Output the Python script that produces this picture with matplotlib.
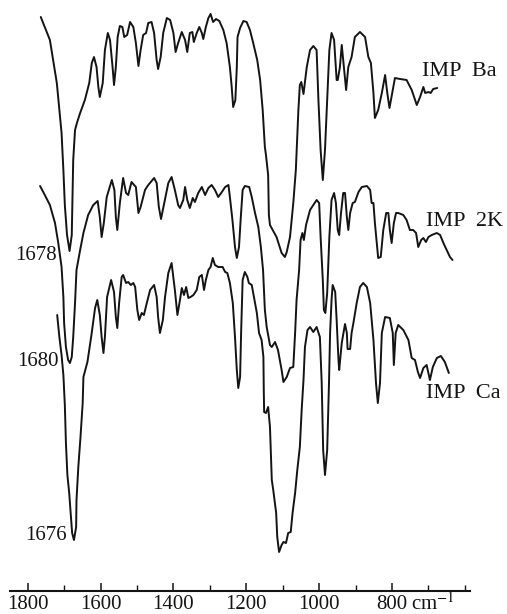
import matplotlib.pyplot as plt
from matplotlib.transforms import blended_transform_factory

plt.rcParams['font.family'] = ['Liberation Serif', 'DejaVu Serif']
plt.rcParams['mathtext.fontset'] = 'stix'

# IR spectra of IMP salts, wavenumber (cm-1) vs. transmittance (arbitrary, offset)
ba_wn = [1764, 1739, 1720, 1707, 1702, 1698, 1692, 1685, 1679, 1677,
         1675, 1670, 1664, 1656, 1643, 1631, 1624, 1618, 1611, 1606,
         1602, 1594, 1588, 1580, 1574, 1567, 1563, 1558, 1553, 1547,
         1540, 1535, 1527, 1519, 1510, 1503, 1496, 1490, 1483, 1475,
         1469, 1460, 1453, 1446, 1442, 1435, 1428, 1418, 1409, 1400,
         1394, 1387, 1377, 1368, 1362, 1355, 1348, 1344, 1336, 1329,
         1322, 1318, 1311, 1304, 1298, 1291, 1283, 1274, 1263, 1254,
         1245, 1240, 1236, 1230, 1226, 1224, 1217, 1208, 1199, 1190,
         1181, 1170, 1162, 1155, 1149, 1146, 1142, 1140, 1138, 1135,
         1117, 1103, 1094, 1089, 1080, 1071, 1064, 1057, 1053, 1049,
         1043, 1034, 1025, 1016, 1007, 1002, 996, 990, 984, 978,
         972, 966, 959, 952, 949, 943, 938, 932, 926, 920,
         911, 902, 888, 874, 865, 858, 851, 847, 838, 828,
         819, 813, 807, 798, 792, 778, 760, 746, 732, 723,
         714, 709, 700, 694, 687, 676]
ba_t = [574, 551, 508, 458, 421, 386, 356, 340, 356, 391,
        431, 461, 469, 478, 491, 508, 528, 534, 524, 504,
        494, 508, 541, 558, 551, 524, 506, 524, 554, 565,
        564, 554, 556, 569, 564, 548, 525, 541, 556, 558,
        568, 569, 558, 531, 522, 534, 558, 573, 571, 558,
        539, 548, 559, 551, 539, 558, 559, 549, 558, 564,
        558, 552, 564, 573, 577, 569, 572, 570, 561, 548,
        524, 504, 484, 491, 524, 554, 563, 570, 569, 561,
        548, 531, 511, 481, 444, 436, 423, 416, 376, 366,
        354, 338, 334, 339, 354, 388, 421, 481, 506, 509,
        497, 524, 541, 545, 541, 491, 441, 411, 441, 491,
        541, 558, 551, 511, 511, 524, 546, 524, 501, 524,
        534, 554, 559, 554, 534, 528, 498, 473, 481, 498,
        516, 498, 483, 501, 513, 512, 511, 501, 486, 494,
        504, 498, 499, 498, 502, 503]

k2_wn = [1766, 1753, 1739, 1725, 1716, 1707, 1702, 1700, 1695, 1689,
         1684, 1679, 1675, 1670, 1666, 1656, 1647, 1634, 1620, 1608,
         1602, 1597, 1591, 1583, 1569, 1562, 1558, 1554, 1547, 1538,
         1530, 1524, 1515, 1503, 1496, 1490, 1478, 1469, 1453, 1446,
         1440, 1434, 1425, 1414, 1405, 1396, 1387, 1382, 1373, 1368,
         1362, 1355, 1347, 1341, 1332, 1322, 1313, 1304, 1295, 1286,
         1277, 1267, 1258, 1249, 1245, 1238, 1231, 1226, 1220, 1215,
         1210, 1204, 1192, 1185, 1176, 1167, 1160, 1154, 1149, 1144,
         1135, 1130, 1121, 1113, 1103, 1098, 1089, 1080, 1071, 1066,
         1062, 1055, 1051, 1046, 1042, 1036, 1025, 1007, 1000, 996,
         990, 987, 983, 978, 972, 966, 959, 954, 949, 945,
         940, 934, 929, 924, 920, 915, 908, 902, 892, 883,
         869, 860, 856, 851, 847, 842, 838, 831, 824, 816,
         810, 806, 801, 795, 789, 783, 769, 760, 751, 742,
         734, 728, 720, 714, 707, 700, 691, 677, 668, 659,
         650, 641, 634]
k2_t = [405, 396, 386, 368, 348, 324, 294, 268, 244, 231,
        228, 234, 254, 288, 321, 341, 358, 376, 386, 390,
        374, 354, 368, 394, 411, 401, 374, 361, 388, 413,
        398, 396, 409, 404, 378, 384, 401, 406, 413, 408,
        384, 372, 388, 408, 414, 401, 386, 383, 391, 404,
        391, 383, 393, 389, 398, 404, 396, 403, 406, 401,
        394, 399, 404, 406, 394, 371, 344, 333, 344, 374,
        401, 405, 404, 394, 378, 364, 344, 321, 281, 264,
        246, 244, 249, 241, 221, 209, 214, 223, 224, 258,
        291, 321, 351, 358, 351, 366, 381, 391, 388, 354,
        311, 281, 278, 298, 354, 391, 398, 388, 361, 356,
        378, 398, 398, 374, 361, 378, 388, 389, 399, 404,
        405, 401, 388, 388, 368, 348, 333, 334, 361, 378,
        378, 361, 348, 368, 378, 378, 376, 371, 361, 361,
        358, 344, 351, 353, 349, 354, 356, 358, 356, 348,
        341, 334, 331]

ca_wn = [1719, 1713, 1707, 1702, 1698, 1695, 1691, 1686, 1682, 1678,
         1673, 1667, 1666, 1661, 1655, 1649, 1647, 1636, 1625, 1615,
         1609, 1602, 1597, 1592, 1588, 1582, 1571, 1563, 1558, 1554,
         1549, 1542, 1538, 1530, 1524, 1517, 1510, 1505, 1499, 1494,
         1487, 1481, 1473, 1464, 1453, 1446, 1442, 1437, 1429, 1423,
         1414, 1405, 1396, 1389, 1382, 1377, 1371, 1365, 1359, 1353,
         1345, 1336, 1329, 1322, 1316, 1311, 1304, 1298, 1292, 1286,
         1277, 1265, 1258, 1252, 1245, 1237, 1231, 1226, 1222, 1217,
         1214, 1210, 1204, 1197, 1193, 1185, 1179, 1171, 1165, 1158,
         1153, 1152, 1151, 1146, 1140, 1135, 1130, 1126, 1118, 1115,
         1110, 1103, 1098, 1091, 1085, 1078, 1073, 1066, 1060, 1053,
         1048, 1043, 1039, 1032, 1025, 1016, 1007, 998, 993, 989,
         984, 978, 973, 970, 966, 963, 956, 952, 947, 945,
         938, 929, 924, 922, 915, 911, 906, 897, 888, 879,
         869, 860, 851, 844, 839, 833, 828, 819, 806, 798,
         795, 790, 783, 769, 755, 746, 737, 729, 723, 714,
         705, 696, 688, 677, 666, 655, 644]
ca_t = [276, 254, 236, 216, 186, 148, 116, 98, 78, 58,
        51, 64, 91, 124, 154, 188, 214, 229, 256, 283,
        291, 276, 254, 238, 254, 294, 311, 299, 274, 263,
        288, 314, 316, 308, 309, 306, 308, 304, 281, 271,
        278, 276, 288, 301, 306, 294, 274, 258, 271, 294,
        318, 328, 301, 276, 291, 303, 296, 304, 293, 294,
        296, 301, 314, 316, 301, 311, 321, 324, 333, 326,
        324, 324, 319, 318, 308, 288, 254, 221, 203, 214,
        261, 311, 319, 314, 308, 306, 294, 278, 258, 251,
        234, 201, 179, 178, 184, 164, 111, 101, 78, 54,
        39, 46, 49, 48, 58, 59, 78, 98, 121, 144,
        181, 211, 244, 261, 264, 259, 264, 254, 208, 141,
        116, 141, 208, 258, 291, 306, 299, 271, 231, 221,
        248, 267, 258, 242, 242, 258, 268, 288, 304, 308,
        304, 288, 251, 208, 188, 208, 258, 274, 273, 258,
        226, 258, 266, 261, 251, 233, 231, 219, 213, 223,
        226, 211, 224, 233, 235, 229, 218]

major_ticks = [1800, 1600, 1400, 1200, 1000, 800]
minor_ticks = [1700, 1500, 1300, 1100, 900, 700, 600]

fig = plt.figure(figsize=(5.07, 6.14), dpi=100)
ax = fig.add_axes([10 / 507, 23 / 614, 460 / 507, 591 / 614])

line_kw = dict(color='#141414', lw=1.4, solid_joinstyle='round', solid_capstyle='round')
ax.plot(ba_wn, ba_t, **line_kw)
ax.plot(k2_wn, k2_t, **line_kw)
ax.plot(ca_wn, ca_t, **line_kw)

ax.set_xlim(1848.5, 586)
ax.set_ylim(0, 591)

for s in ['top', 'left', 'right']:
    ax.spines[s].set_visible(False)
ax.spines['bottom'].set_linewidth(1.5)
ax.spines['bottom'].set_color('#141414')

ax.set_yticks([])
ax.set_xticks(major_ticks)
ax.set_xticks(minor_ticks, minor=True)
ax.tick_params(axis='x', which='major', direction='in', length=6, width=1.1,
               pad=3, labelsize=15, colors='#141414')
ax.tick_params(axis='x', which='minor', direction='in', length=4, width=1.0,
               colors='#141414')

# unit label sits right of the "800" tick label
trans = blended_transform_factory(ax.transData, ax.transAxes)
ax.text(748, -0.0225, 'cm$^{-1}$', transform=trans, fontsize=15,
        ha='left', va='center', color='#141414')

txt_kw = dict(fontsize=16, color='#141414', va='center')
ax.text(718, 520, 'IMP  Ba', ha='left', **txt_kw)
ax.text(707, 370, 'IMP  2K', ha='left', **txt_kw)
ax.text(707, 197, 'IMP  Ca', ha='left', **txt_kw)

num_kw = dict(fontsize=15, color='#141414', va='center', ha='right')
ax.text(1719, 335, '1678', **num_kw)
ax.text(1714, 229, '1680', **num_kw)
ax.text(1692, 56, '1676', **num_kw)

fig.savefig('out.png', dpi=100)
